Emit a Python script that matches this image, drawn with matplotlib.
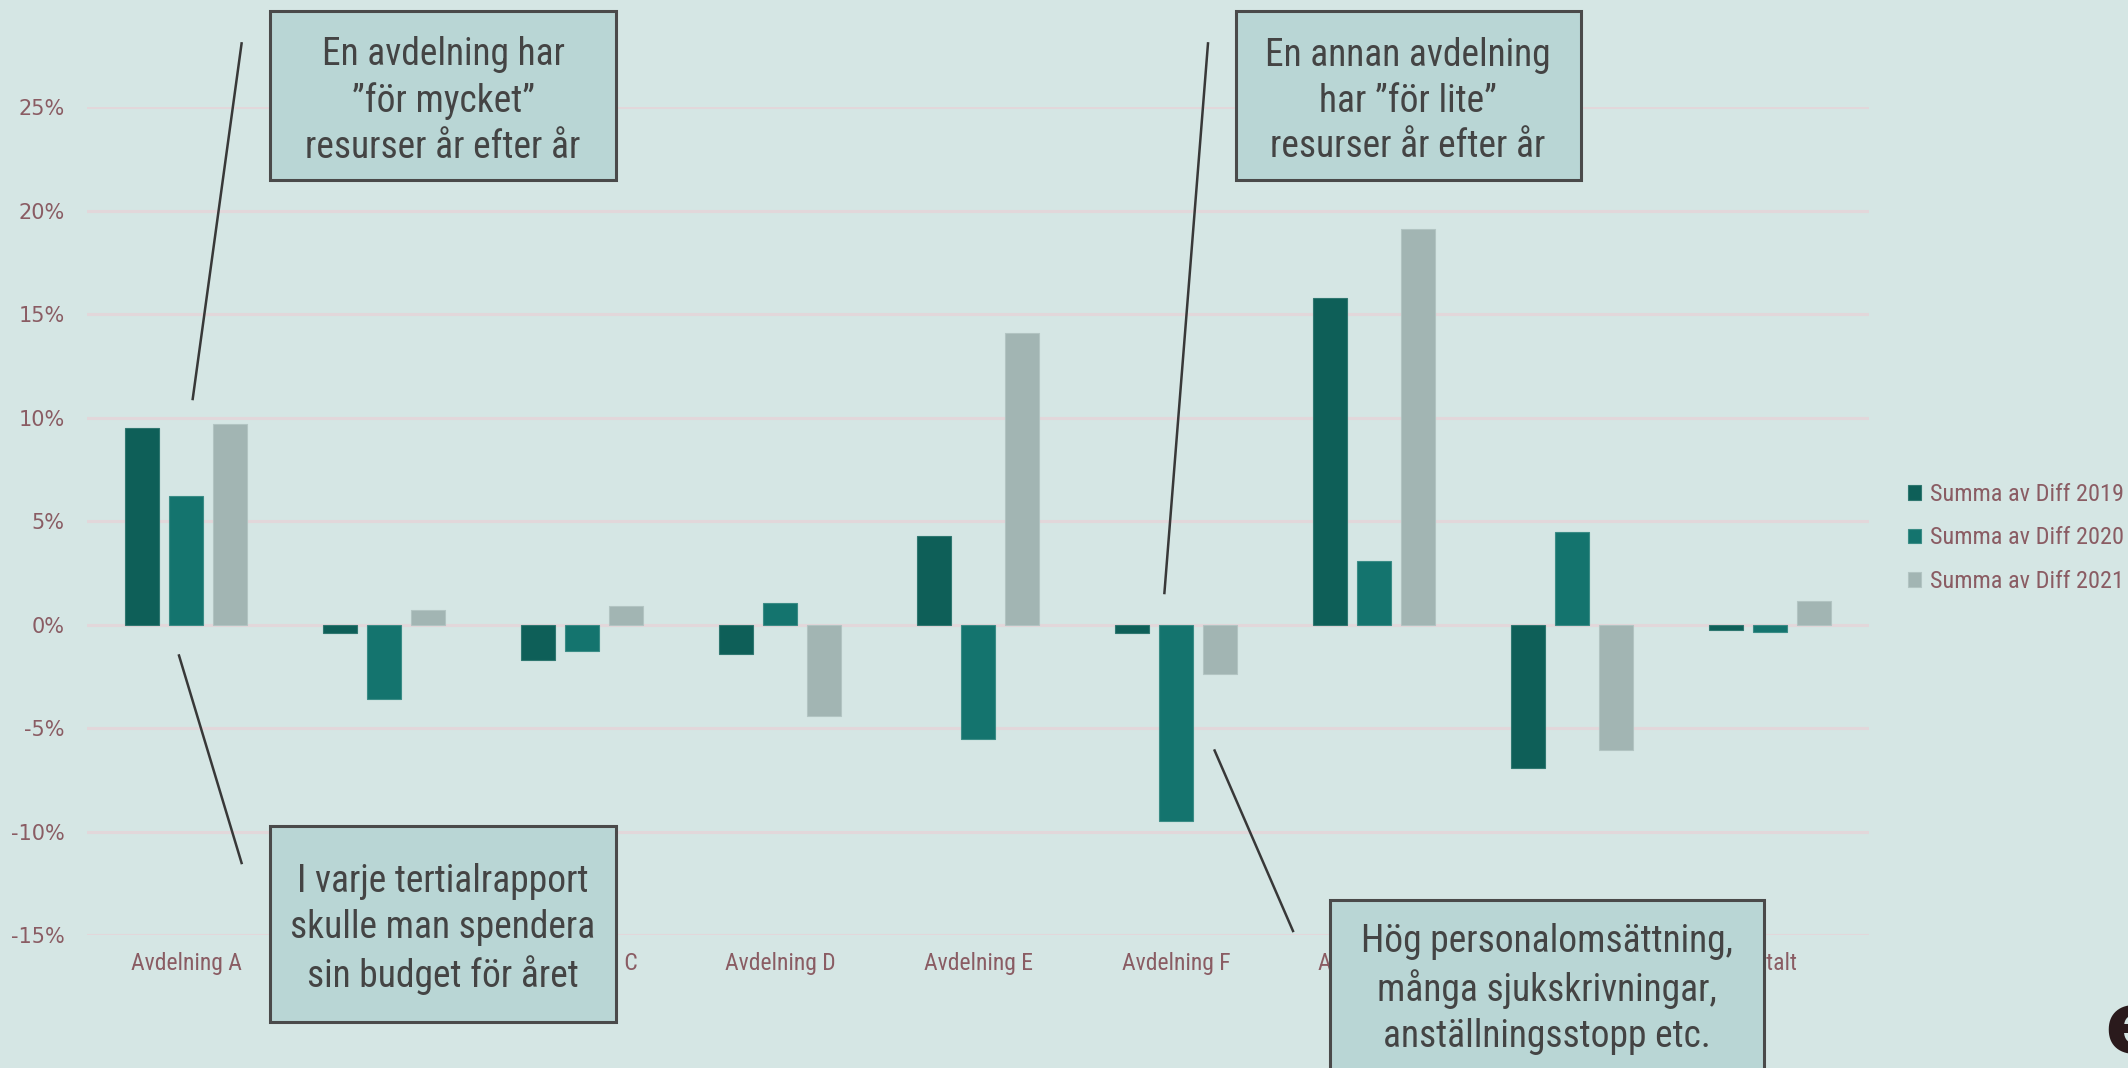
import matplotlib

matplotlib.use("Agg")
import matplotlib.pyplot as plt
from matplotlib import font_manager
from matplotlib.patches import Rectangle
from matplotlib.lines import Line2D
from matplotlib.ticker import FuncFormatter
import numpy as np

# ==================== Data ====================
CATEGORIES = [
    "Avdelning A", "Avdelning B", "Avdelning C", "Avdelning D", "Avdelning E",
    "Avdelning F", "Avdelning G", "Avdelning H", "Totalt",
]
SERIES_NAMES = ["Summa av Diff 2019", "Summa av Diff 2020", "Summa av Diff 2021"]
DIFF_2019 = [0.095, -0.004, -0.017, -0.014, 0.043, -0.004, 0.158, -0.069, -0.0026]
DIFF_2020 = [0.062, -0.036, -0.0125, 0.0105, -0.055, -0.095, 0.031, 0.045, -0.0037]
DIFF_2021 = [0.097, 0.007, 0.009, -0.044, 0.141, -0.024, 0.191, -0.0605, 0.0116]
Y_TICKS = [-0.15, -0.10, -0.05, 0.0, 0.05, 0.10, 0.15, 0.20, 0.25]

NOTES = [
    "En avdelning har\n\u201dför mycket\u201d\nresurser år efter år",
    "En annan avdelning\nhar \u201dför lite\u201d\nresurser år efter år",
    "I varje tertialrapport\nskulle man spendera\nsin budget för året",
    "Hög personalomsättning,\nmånga sjukskrivningar,\nanställningsstopp etc.",
]

# ==================== Style ====================
W, H = 2128, 1068
BG = "#d5e6e4"
GRID = "#e2d7da"
TICK_COLOR = "#8a5c63"
COLORS = ["#0e5f58", "#14746e", "#a2b5b3"]
EDGES = ["#2f7770", "#3a8c86", "#b2c4c2"]
BOX_FACE = "#b9d6d5"
BOX_EDGE = "#4a4a4a"
NOTE_COLOR = "#444444"
LINE_COLOR = "#383838"


def pick_font(names, default="DejaVu Sans"):
    have = {f.name for f in font_manager.fontManager.ttflist}
    for name in names:
        if name in have:
            return name
    return default


NARROW = pick_font(["Liberation Sans Narrow", "DejaVu Sans Condensed", "Roboto Condensed", "Open Sans"])
PLAIN = pick_font(["DejaVu Sans"])


def px(x, y):
    # pixel coords (top-left origin) -> figure fraction
    return x / W, 1 - y / H


def main():
    fig = plt.figure(figsize=(W / 100, H / 100), dpi=100, facecolor=BG)
    left, bottom = px(87, 935.2)
    right, top = px(1869, 107.2)
    ax = fig.add_axes([left, bottom, right - left, top - bottom])
    ax.set_facecolor(BG)

    x = np.arange(len(CATEGORIES))
    width = 0.175
    offsets = [-0.222, 0.0, 0.222]
    for vals, off, color, edge, name in zip([DIFF_2019, DIFF_2020, DIFF_2021], offsets, COLORS, EDGES, SERIES_NAMES):
        ax.bar(x + off, vals, width, color=color, edgecolor=edge, linewidth=0.8, label=name, zorder=3)

    ax.set_xlim(-0.5, len(CATEGORIES) - 0.5)
    ax.set_ylim(-0.15, 0.25)
    ax.set_yticks(Y_TICKS)
    ax.yaxis.set_major_formatter(FuncFormatter(lambda v, p: f"{v * 100:.0f}%"))
    ax.grid(axis="y", color=GRID, linewidth=2.2, zorder=0)
    ax.set_xticks(x)
    ax.set_xticklabels(CATEGORIES, fontfamily=NARROW, fontsize=17, color=TICK_COLOR)
    for lab in ax.get_yticklabels():
        lab.set_fontfamily(PLAIN)
        lab.set_fontsize(15)
        lab.set_color(TICK_COLOR)
    ax.tick_params(axis="both", length=0)
    ax.tick_params(axis="x", pad=12)
    ax.tick_params(axis="y", pad=16)
    for sp in ax.spines.values():
        sp.set_visible(False)

    fig.legend(
        loc="center left", bbox_to_anchor=px(1886, 538), frameon=False,
        prop={"family": NARROW, "size": 17.5}, labelcolor=TICK_COLOR,
        handlelength=0.55, handleheight=0.55, handletextpad=0.35, labelspacing=0.85,
    )

    # annotation boxes (x0, y0, x1, y1 in pixels, top-left origin)
    boxes = [
        (270, 11, 616, 180),
        (1236, 11, 1581, 180),
        (270, 826, 616, 1022),
        (1330, 900, 1764, 1110),
    ]
    text_centers = [(443, 101), (1408, 101), (443, 929), (1547, 989)]
    for (x0, y0, x1, y1), (tx, ty), note in zip(boxes, text_centers, NOTES):
        fx0, fy1 = px(x0, y1)
        fx1, fy0 = px(x1, y0)
        fig.add_artist(Rectangle((fx0, fy1), fx1 - fx0, fy0 - fy1, transform=fig.transFigure,
                                 facecolor=BOX_FACE, edgecolor=BOX_EDGE, linewidth=2.2, zorder=5))
        fig.text(*px(tx, ty), note, ha="center", va="center", fontfamily=NARROW, fontsize=27,
                 color=NOTE_COLOR, linespacing=1.3, zorder=6)

    lines = [
        ((241.6, 43.4), (192.7, 399)),
        ((179, 655.5), (241.6, 863)),
        ((1208, 43.4), (1164.4, 593)),
        ((1214.6, 750.5), (1293, 931)),
    ]
    for p0, p1 in lines:
        (ax0, ay0), (ax1, ay1) = px(*p0), px(*p1)
        fig.add_artist(Line2D([ax0, ax1], [ay0, ay1], transform=fig.transFigure,
                              color=LINE_COLOR, linewidth=1.8, zorder=4))

    fig.text(*px(2104, 1030), "e", ha="left", va="center", fontsize=62, fontweight="bold",
             color="#2a1a1c", fontfamily=PLAIN)

    fig.savefig("out.png", dpi=100, facecolor=BG)
    plt.close(fig)


if __name__ == "__main__":
    main()
